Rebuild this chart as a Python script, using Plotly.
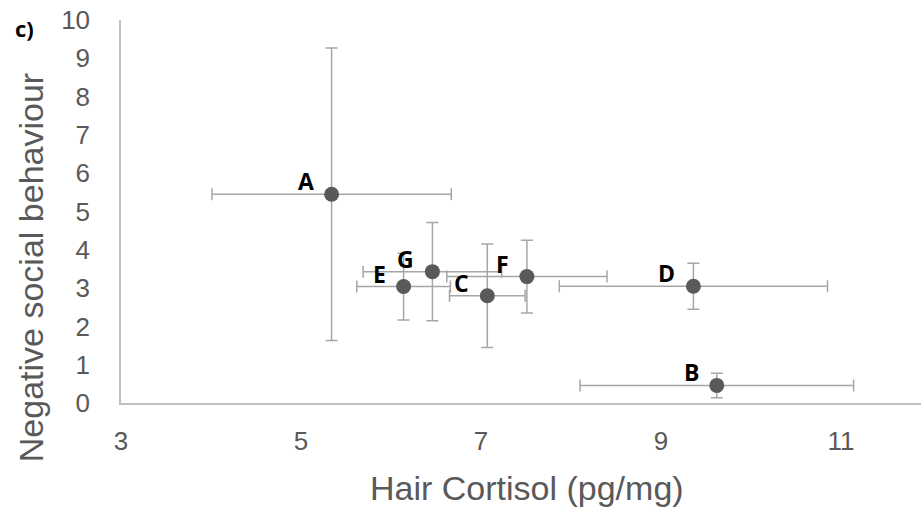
import plotly.graph_objects as go

labels = ["A", "B", "C", "D", "E", "F", "G"]
cortisol = [5.34, 9.62, 7.07, 9.36, 6.14, 7.51, 6.46]
cortisol_err = [1.33, 1.52, 0.42, 1.49, 0.52, 0.89, 0.77]
behaviour = [5.45, 0.46, 2.80, 3.05, 3.04, 3.30, 3.43]
behaviour_err = [3.82, 0.32, 1.35, 0.60, 0.87, 0.95, 1.28]

x_ticks = [3, 5, 7, 9, 11]
y_ticks = list(range(0, 11))

fig = go.Figure()
fig.add_trace(go.Scatter(
    x=cortisol, y=behaviour, mode="markers",
    marker=dict(size=15, color="#595959"),
    error_x=dict(type="data", array=cortisol_err, color="#A6A6A6", thickness=1.5, width=6),
    error_y=dict(type="data", array=behaviour_err, color="#A6A6A6", thickness=1.5, width=6),
    showlegend=False, cliponaxis=False,
))

annotations = [dict(text=lab, x=xv, y=yv, xref="x", yref="y", xanchor="right", yanchor="middle",
                    xshift=-16, yshift=13, showarrow=False,
                    font=dict(family="Open Sans", size=23, color="black", weight="bold"))
               for lab, xv, yv in zip(labels, cortisol, behaviour)]
annotations += [
    dict(text="c)", x=-0.135, y=0.979, xref="paper", yref="paper",
         xanchor="left", yanchor="middle", showarrow=False,
         font=dict(family="Open Sans", size=22, color="black", weight="bold")),
    dict(text="Hair Cortisol (pg/mg)", x=0.507, y=-0.222, xref="paper", yref="paper",
         xanchor="center", yanchor="middle", showarrow=False,
         font=dict(size=34, color="#595959")),
    dict(text="Negative social behaviour", x=-0.1125, y=0.352, xref="paper", yref="paper",
         xanchor="center", yanchor="middle", textangle=-90, showarrow=False,
         font=dict(size=34, color="#595959")),
]

fig.update_layout(
    width=921, height=511,
    margin=dict(l=121, r=0, t=20, b=108),
    plot_bgcolor="white", paper_bgcolor="white",
    font=dict(family="Liberation Sans, Arial", color="#595959"),
    xaxis=dict(range=[3, 3 + 800 / 90], tickvals=x_ticks, showgrid=False, zeroline=False,
               showline=True, linecolor="#BFBFBF", linewidth=1.5,
               ticks="outside", ticklen=14, tickcolor="rgba(0,0,0,0)",
               tickfont=dict(size=26, color="#595959")),
    yaxis=dict(range=[0, 10], tickvals=y_ticks, showgrid=False, zeroline=False,
               showline=True, linecolor="#BFBFBF", linewidth=1.5,
               ticks="outside", ticklen=24, tickcolor="rgba(0,0,0,0)",
               tickfont=dict(size=26, color="#595959")),
    annotations=annotations,
)

fig.write_html("out.html")
